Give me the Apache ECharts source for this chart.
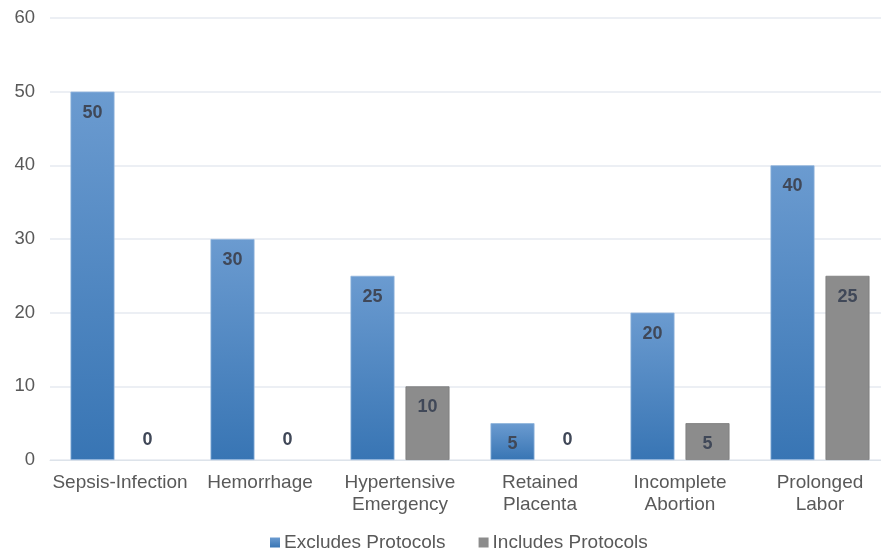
<!DOCTYPE html>
<html><head><meta charset="utf-8">
<script src="https://cdn.jsdelivr.net/npm/echarts@6/dist/echarts.min.js"></script>
<style>html,body{margin:0;padding:0;background:#fff;overflow:hidden}#c{width:890px;height:554px}</style>
</head><body><div id="c"></div>
<script>
const categories = ['Sepsis-Infection','Hemorrhage','Hypertensive\nEmergency','Retained\nPlacenta','Incomplete\nAbortion','Prolonged\nLabor'];
const excludes = [50, 30, 25, 5, 20, 40];
const includes = [0, 0, 10, 0, 5, 25];
const seriesNames = ['Excludes Protocols','Includes Protocols'];
const yTicks = [0, 10, 20, 30, 40, 50, 60];

const FONT = '"Liberation Sans", Arial, sans-serif';
const labelBase = {show:true, color:'#404858', fontWeight:'bold', fontSize:18, fontFamily:FONT};
function withLabels(arr){
  return arr.map(v => ({
    value: v,
    itemStyle: v === 0 ? {borderWidth:0} : undefined,
    label: v === 0 ? Object.assign({}, labelBase, {position:'top', distance:11})
                   : Object.assign({}, labelBase, {position:'insideTop', distance:12})
  }));
}
const chart = echarts.init(document.getElementById('c'), null, {renderer:'canvas'});
chart.setOption({
  animation:false,
  grid:{left:50, top:18, right:0, bottom:94, containLabel:false},
  legend:{
    top:528, left:265, itemWidth:10, itemHeight:10, itemGap:33,
    icon:'rect',
    itemStyle:{borderWidth:0},
    textStyle:{color:'#595959', fontSize:19, fontFamily:FONT, padding:[0,0,0,-1]},
    data:seriesNames
  },
  xAxis:{
    type:'category', data:categories,
    axisLine:{show:true, lineStyle:{color:'#dde3ea'}},
    axisTick:{show:false},
    axisLabel:{color:'#595959', fontSize:19, fontFamily:FONT, margin:12, lineHeight:22, interval:0}
  },
  yAxis:{
    type:'value', min:yTicks[0], max:yTicks[yTicks.length-1], interval:10,
    axisLine:{show:false}, axisTick:{show:false},
    splitLine:{lineStyle:{color:'#e6eaf0', width:1.5}},
    axisLabel:{color:'#595959', fontSize:18.5, fontFamily:FONT, margin:15}
  },
  series:[
    {
      name:seriesNames[0], type:'bar', data:withLabels(excludes),
      barWidth:44, barGap:'25%',
      itemStyle:{
        color:new echarts.graphic.LinearGradient(0,0,0,1,[{offset:0,color:'#6b9bd0'},{offset:1,color:'#3875b4'}]),
        borderColor:'#8fb4dc', borderWidth:0.8
      }
    },
    {
      name:seriesNames[1], type:'bar', data:withLabels(includes),
      barWidth:44,
      itemStyle:{color:'#8c8c8c', borderColor:'#7a7a7a', borderWidth:0.8}
    }
  ]
});
</script></body></html>
